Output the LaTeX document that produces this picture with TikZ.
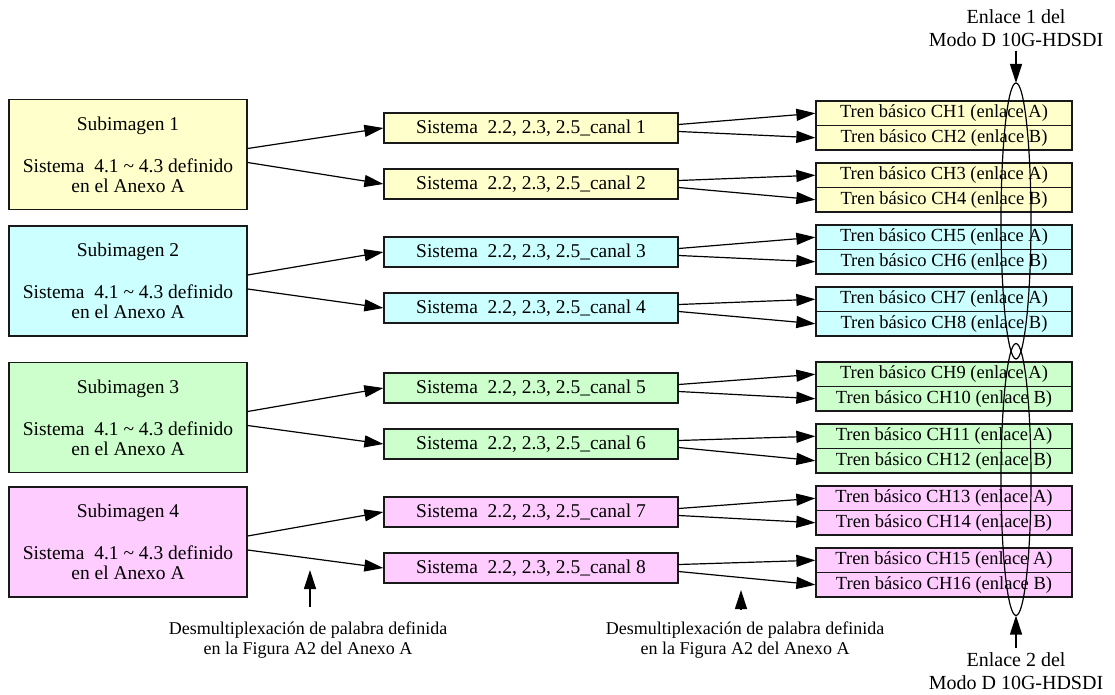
\documentclass[tikz,border=0pt]{standalone}
\usepackage{fontspec}
\setmainfont{Liberation Serif}
\usetikzlibrary{arrows.meta,shapes.geometric}
\definecolor{cYel}{RGB}{255,255,204}
\definecolor{cCya}{RGB}{204,255,255}
\definecolor{cGrn}{RGB}{204,255,204}
\definecolor{cPnk}{RGB}{255,204,255}
\begin{document}
\begin{tikzpicture}[x=1pt,y=-1pt,
  arr/.style={-{Triangle[length=19pt,width=12pt]}, line width=1.2pt},
  box/.style={draw=black!90, line width=1.3pt, inner sep=0pt},
  sub/.style={box, minimum width=238pt, minimum height=110pt, align=center, font=\fontsize{19.5}{20}\selectfont},
  mid/.style={box, minimum width=294pt, minimum height=30pt, font=\fontsize{19.5}{20}\selectfont},
  cell/.style={box, minimum width=256pt, minimum height=24.5pt, font=\fontsize{18.5}{20}\selectfont},
  lbl/.style={align=center, inner sep=0pt, font=\fontsize{20}{23}\selectfont},
  dlbl/.style={align=center, inner sep=0pt, font=\fontsize{18}{20}\selectfont},
  ell/.style={ellipse, draw, line width=1.2pt, inner sep=0pt, outer sep=0pt, minimum width=30pt},
]
\useasboundingbox (0,0) rectangle (1115,695);

% left boxes
\newcommand{\subtext}[1]{Subimagen #1\\[22pt]Sistema\ \ 4.1 \textasciitilde{} 4.3 definido\\en el Anexo A}
\node[sub, fill=cYel] (s1) at (128,154.5) {\subtext{1}};
\node[sub, fill=cCya] (s2) at (128,281) {\subtext{2}};
\node[sub, fill=cGrn] (s3) at (128,417.5) {\subtext{3}};
\node[sub, fill=cPnk] (s4) at (128,542) {\subtext{4}};

% middle boxes
\newcommand{\midtext}[1]{Sistema\ \ 2.2, 2.3, 2.5\_canal #1}
\node[mid, fill=cYel] (m1) at (531,128) {\midtext{1}};
\node[mid, fill=cYel] (m2) at (531,184) {\midtext{2}};
\node[mid, fill=cCya] (m3) at (531,252) {\midtext{3}};
\node[mid, fill=cCya] (m4) at (531,308) {\midtext{4}};
\node[mid, fill=cGrn] (m5) at (531,388) {\midtext{5}};
\node[mid, fill=cGrn] (m6) at (531,444) {\midtext{6}};
\node[mid, fill=cPnk] (m7) at (531,512) {\midtext{7}};
\node[mid, fill=cPnk] (m8) at (531,568) {\midtext{8}};

% right cells
\newcommand{\tren}[2]{Tren básico CH#1 (enlace #2)}
\node[cell, fill=cYel] (c1) at (944,113.25) {\tren{1}{A}};
\node[cell, fill=cYel] (c2) at (944,137.75) {\tren{2}{B}};
\node[cell, fill=cYel] (c3) at (944,175.25) {\tren{3}{A}};
\node[cell, fill=cYel] (c4) at (944,199.75) {\tren{4}{B}};
\node[cell, fill=cCya] (c5) at (944,237.25) {\tren{5}{A}};
\node[cell, fill=cCya] (c6) at (944,261.75) {\tren{6}{B}};
\node[cell, fill=cCya] (c7) at (944,299.25) {\tren{7}{A}};
\node[cell, fill=cCya] (c8) at (944,323.75) {\tren{8}{B}};
\node[cell, fill=cGrn] (c9) at (944,374.25) {\tren{9}{A}};
\node[cell, fill=cGrn] (c10) at (944,398.75) {\tren{10}{B}};
\node[cell, fill=cGrn] (c11) at (944,436.25) {\tren{11}{A}};
\node[cell, fill=cGrn] (c12) at (944,460.75) {\tren{12}{B}};
\node[cell, fill=cPnk] (c13) at (944,498.25) {\tren{13}{A}};
\node[cell, fill=cPnk] (c14) at (944,522.75) {\tren{14}{B}};
\node[cell, fill=cPnk] (c15) at (944,560.25) {\tren{15}{A}};
\node[cell, fill=cPnk] (c16) at (944,584.75) {\tren{16}{B}};

% left -> middle
\foreach \s/\a/\b in {1/1/2, 2/3/4, 3/5/6, 4/7/8}{
  \draw[arr] ([yshift=6pt]s\s.east) -- (m\a.west);
  \draw[arr] ([yshift=-8pt]s\s.east) -- (m\b.west);
}
% middle -> right
\foreach \m/\a/\b in {1/1/2, 2/3/4, 3/5/6, 4/7/8, 5/9/10, 6/11/12, 7/13/14, 8/15/16}{
  \draw[arr] ([yshift=3.5pt]m\m.east) -- (c\a.west);
  \draw[arr] ([yshift=-3.5pt]m\m.east) -- (c\b.west);
}

% ellipses
\node[ell, minimum height=276pt] (e1) at (1016,221) {};
\node[ell, minimum height=272pt] (e2) at (1016,479.5) {};

% link labels
\node[lbl] (l1) at (1016,28) {Enlace 1 del\\Modo D 10G-HDSDI};
\node[lbl] (l2) at (1016,671) {Enlace 2 del\\Modo D 10G-HDSDI};
\draw[arr] ([yshift=-4pt]l1.south) -- (e1.north);
\draw[arr] ([yshift=4pt]l2.north) -- (e2.south);

% demux labels
\node[dlbl] (d1) at (308,640) {Desmultiplexación de palabra definida\\en la Figura A2 del Anexo A};
\node[dlbl] (d2) at (745,640) {Desmultiplexación de palabra definida\\en la Figura A2 del Anexo A};
\coordinate (t1) at (310,570);
\coordinate (t2) at (741,590);
\coordinate (b1) at (310,607);
\coordinate (b2) at (741,610);
\draw[arr] (b1) -- (t1);
\draw[arr] (b2) -- (t2);
\end{tikzpicture}
\end{document}
